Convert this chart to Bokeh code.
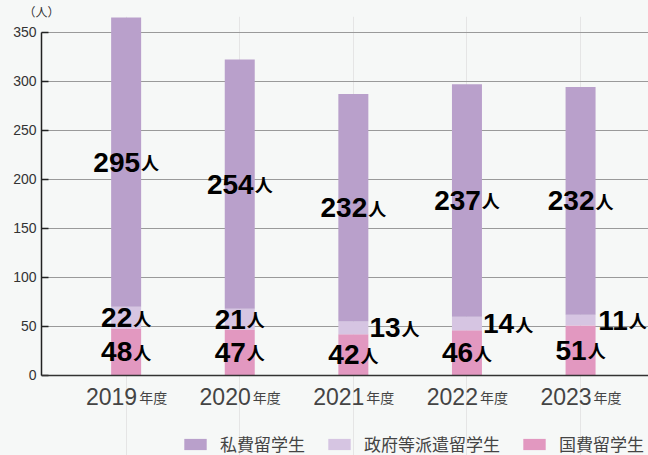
import numpy as np
from bokeh.plotting import figure
from bokeh.models import (ColumnDataSource, Range1d, FixedTicker, Span,
                          Legend, LegendItem)
from bokeh.core.properties import value
from bokeh.embed import file_html
from bokeh.resources import INLINE

# ---------------- data ----------------
years = ["2019", "2020", "2021", "2022", "2023"]
year_suffix = "年度"
kokuhi = [48, 47, 42, 46, 51]        # 国費留学生
seifu = [22, 21, 13, 14, 11]         # 政府等派遣留学生
shihi = [295, 254, 232, 237, 232]    # 私費留学生
y_ticks = [0, 50, 100, 150, 200, 250, 300, 350]
series_names = ["私費留学生", "政府等派遣留学生", "国費留学生"]
unit = "人"
y_unit_label = "（人）"

# ---------------- style ----------------
BG = "#f6f8f7"
C_SHIHI = "#b9a0cb"
C_SEIFU = "#d6c5e2"
C_KOKUHI = "#e298c0"
LATIN = "Liberation Sans"
CJK = "Noto Sans CJK JP"

x = np.arange(len(years))
k = np.array(kokuhi, dtype=float)
s = np.array(seifu, dtype=float)
h = np.array(shihi, dtype=float)
b1 = k
b2 = k + s
top = k + s + h

p = figure(width=648, height=455,
           x_range=Range1d(-0.745, 4.598), y_range=Range1d(-81.55, 365.95),
           x_axis_location=None,
           output_backend="svg", toolbar_location=None,
           min_border_left=41, min_border_right=0,
           min_border_top=16, min_border_bottom=0)
p.background_fill_color = BG
p.border_fill_color = BG
p.outline_line_color = None

# unit label "（人）" as the title (top panel, not clipped)
p.title.text = y_unit_label
p.title.align = "left"
p.title.offset = -18
p.title.standoff = -6
p.title.text_font = CJK
p.title.text_font_size = "12px"
p.title.text_font_style = "normal"
p.title.text_color = "#333333"

bar_w = 0.264
src = ColumnDataSource(dict(x=x, b1=b1, b2=b2, top=top))
r_k = p.vbar(x="x", bottom=0, top="b1", width=bar_w, fill_color=C_KOKUHI, line_color=None, source=src)
r_s = p.vbar(x="x", bottom="b1", top="b2", width=bar_w, fill_color=C_SEIFU, line_color=None, source=src)
r_h = p.vbar(x="x", bottom="b2", top="top", width=bar_w, fill_color=C_SHIHI, line_color=None, source=src)

# y axis
p.yaxis.ticker = FixedTicker(ticks=y_ticks)
p.yaxis.bounds = (y_ticks[0], y_ticks[-1])
p.yaxis.major_tick_in = 7
p.yaxis.major_tick_out = 0
p.yaxis.minor_tick_line_color = None
p.yaxis.axis_line_color = "#222222"
p.yaxis.axis_line_width = 1.5
p.yaxis.major_tick_line_color = "#222222"
p.yaxis.major_tick_line_width = 1.5
p.yaxis.major_label_text_font_size = "14px"
p.yaxis.major_label_text_color = "#333333"
p.yaxis.major_label_text_font = LATIN
p.yaxis.major_label_standoff = 5
p.ygrid.grid_line_color = "#9a9a9a"
p.ygrid.grid_line_width = 1.2

# baseline (x axis line)
p.add_layout(Span(location=0, dimension="width", line_color="#333333", line_width=1.5))

# category labels (inside the frame, below the baseline)
csrc = ColumnDataSource(dict(x=x, y=np.zeros(len(x)), t=years, u=[year_suffix] * len(years)))
p.text(x="x", y="y", text="t", source=csrc, text_align="right", text_baseline="alphabetic",
       x_offset=11, y_offset=21, text_font=value(LATIN), text_font_size="23px",
       text_color="#444444")
p.text(x="x", y="y", text="u", source=csrc, text_align="left", text_baseline="alphabetic",
       x_offset=13, y_offset=22, text_font=value(CJK), text_font_size="14px",
       text_color="#444444")

# value labels
DW, UW, GAP = 15.6, 18.0, 1.0
lx, ly, lnum, lax, lux, lu = [], [], [], [], [], []


def add(xi, yv, v, outside=False):
    n = len(str(v))
    if outside:
        anchor = 16 + n * DW
    else:
        w = n * DW + GAP + UW
        anchor = -w / 2 + n * DW
    lx.append(xi)
    ly.append(yv)
    lnum.append(str(v))
    lax.append(anchor)
    lux.append(anchor + GAP)
    lu.append(unit)


for i in range(len(years)):
    add(i, k[i] / 2, kokuhi[i])
    add(i, k[i] + s[i] / 2, seifu[i], outside=seifu[i] < 20)
    add(i, k[i] + s[i] + h[i] / 2, shihi[i])

lsrc = ColumnDataSource(dict(x=lx, y=ly, num=lnum, ax=lax, ux=lux, u=lu))
p.text(x="x", y="y", text="num", x_offset="ax", y_offset=0, source=lsrc,
       text_align="right", text_baseline="alphabetic", text_font=value(LATIN),
       text_font_style="bold", text_font_size="28px", text_color="#000000")
p.text(x="x", y="y", text="u", x_offset="ux", y_offset=0, source=lsrc,
       text_align="left", text_baseline="alphabetic", text_font=value(CJK),
       text_font_style="bold", text_font_size="18px", text_color="#000000")

# series legend (inside the frame, at the bottom)
legend = Legend(items=[LegendItem(label=series_names[0], renderers=[r_h]),
                       LegendItem(label=series_names[1], renderers=[r_s]),
                       LegendItem(label=series_names[2], renderers=[r_k])],
                orientation="horizontal", location=(140, -1),
                padding=0, margin=0, spacing=20, label_standoff=11,
                glyph_width=28, glyph_height=14, label_height=14,
                label_text_font=CJK, label_text_font_size="17px",
                label_text_color="#444444",
                border_line_color=None, background_fill_alpha=0)
p.add_layout(legend)

html = file_html(p, INLINE)
html = html.replace("<head>", "<head><style>body{background:%s;}</style>" % BG, 1)
open("out.html", "w").write(html)
